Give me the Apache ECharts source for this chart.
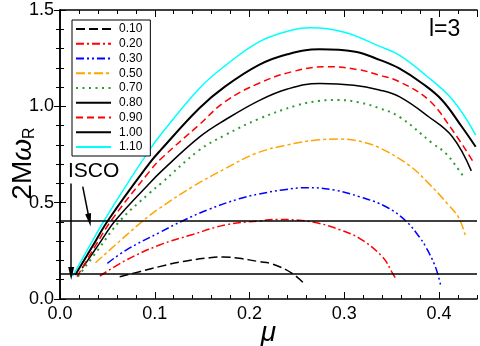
<!DOCTYPE html>
<html>
<head>
<meta charset="utf-8">
<script src="https://cdn.jsdelivr.net/npm/echarts@6/dist/echarts.min.js"></script>
<style>
  html, body { margin: 0; padding: 0; background: #fff; }
  #chart { width: 480px; height: 346px; }
</style>
</head>
<body>
<div id="chart"></div>
<script>
// legend labels (one per curve)
const massLabels = ['0.10', '0.20', '0.30', '0.50', '0.70', '0.80', '0.90', '1.00', '1.10']

// [mu, 2M omega_R]
const curve010 = [[0.063, 0.116], [0.085, 0.143], [0.105, 0.168], [0.13, 0.195], [0.158, 0.214], [0.172, 0.218], [0.189, 0.211], [0.21, 0.194], [0.224, 0.182], [0.245, 0.133], [0.259, 0.073]]
const curve020 = [[0.042, 0.119], [0.0698, 0.202], [0.105, 0.28], [0.14, 0.335], [0.175, 0.385], [0.21, 0.405], [0.231, 0.413], [0.25, 0.41], [0.273, 0.393], [0.295, 0.36], [0.316, 0.315], [0.34, 0.22], [0.351, 0.133], [0.355, 0.099]]
const curve030 = [[0.05, 0.185], [0.0698, 0.254], [0.105, 0.345], [0.129, 0.405], [0.157, 0.465], [0.189, 0.52], [0.21, 0.545], [0.235, 0.566], [0.261, 0.578], [0.29, 0.565], [0.316, 0.531], [0.344, 0.479], [0.365, 0.405], [0.379, 0.323], [0.386, 0.27], [0.396, 0.168], [0.402, 0.064]]
const curve050 = [[0.0374, 0.188], [0.0698, 0.33], [0.0874, 0.405], [0.105, 0.471], [0.14, 0.583], [0.175, 0.678], [0.207, 0.756], [0.24, 0.80], [0.273, 0.826], [0.295, 0.83], [0.315, 0.82], [0.337, 0.785], [0.368, 0.695], [0.389, 0.60], [0.41, 0.488], [0.421, 0.419], [0.428, 0.323]]
const curve070 = [[0.019, 0.116], [0.04, 0.255], [0.064, 0.41], [0.0943, 0.549], [0.1066, 0.60], [0.147, 0.773], [0.174, 0.85], [0.21, 0.935], [0.25, 1.005], [0.273, 1.028], [0.293, 1.033], [0.316, 1.02], [0.337, 0.99], [0.358, 0.946], [0.393, 0.808], [0.407, 0.756], [0.421, 0.669], [0.426, 0.632]]
const curve080 = [[0.0235, 0.16], [0.04, 0.277], [0.0588, 0.41], [0.0943, 0.60], [0.1066, 0.661], [0.147, 0.84], [0.174, 0.929], [0.21, 1.03], [0.24, 1.09], [0.274, 1.119], [0.31, 1.11], [0.337, 1.085], [0.358, 1.05], [0.389, 0.946], [0.414, 0.842], [0.434, 0.665]]
const curve090 = [[0.018, 0.116], [0.036, 0.265], [0.0545, 0.41], [0.0943, 0.661], [0.1066, 0.728], [0.147, 0.905], [0.174, 1.024], [0.21, 1.12], [0.245, 1.18], [0.281, 1.206], [0.315, 1.19], [0.337, 1.162], [0.358, 1.128], [0.389, 1.033], [0.414, 0.877], [0.437, 0.704]]
const curve100 = [[0.016, 0.125], [0.033, 0.263], [0.051, 0.41], [0.0943, 0.704], [0.1066, 0.775], [0.147, 0.99], [0.174, 1.102], [0.21, 1.215], [0.24, 1.27], [0.274, 1.296], [0.31, 1.285], [0.338, 1.24], [0.358, 1.197], [0.382, 1.12], [0.403, 1.033], [0.424, 0.894], [0.4386, 0.79]]
const curve110 = [[0.0135, 0.119], [0.03, 0.265], [0.047, 0.41], [0.07, 0.59], [0.0943, 0.773], [0.1066, 0.855], [0.147, 1.093], [0.174, 1.21], [0.21, 1.335], [0.24, 1.39], [0.264, 1.408], [0.30, 1.385], [0.338, 1.31], [0.358, 1.266], [0.385, 1.165], [0.414, 1.035], [0.4386, 0.851]]

const curves = [curve010, curve020, curve030, curve050, curve070, curve080, curve090, curve100, curve110]

// ISCO horizontal lines and the two arrows
const iscoLevels = [0.405, 0.133]
const arrowVertical = [[0.0118, 0.60], [0.0118, 0.133]]
const arrowSlanted = [[0.024, 0.583], [0.031, 0.41]]

const lineStyles = [
  { color: '#000000', type: [9, 4], width: 1.5 },
  { color: '#ff0000', type: [8, 3, 2, 3], width: 1.5 },
  { color: '#0000ff', type: [8, 3, 2, 3, 2, 3], width: 1.5 },
  { color: '#ffa500', type: [9, 3, 3, 3], width: 1.5 },
  { color: '#2e9b2e', type: [2, 4.5], width: 2 },
  { color: '#000000', type: 'solid', width: 1.5 },
  { color: '#ff0000', type: [7, 4], width: 1.5 },
  { color: '#000000', type: 'solid', width: 2 },
  { color: '#00ffff', type: 'solid', width: 1.5 }
]

const font = '"Liberation Sans", Arial, Helvetica, sans-serif'

function tickAxis (pos, interval, len) {
  return {
    type: 'value',
    min: 0,
    max: 0.44,
    interval: interval,
    position: pos,
    axisLine: { show: false },
    axisTick: { inside: true, length: len, lineStyle: { color: '#000', width: 1 } },
    axisLabel: { show: false },
    splitLine: { show: false }
  }
}

let chart = echarts.init(document.getElementById('chart'))

let series = curves.map(function (c, i) {
  return {
    name: massLabels[i],
    type: 'line',
    data: c,
    symbol: 'none',
    smooth: 0.4,
    lineStyle: lineStyles[i],
    itemStyle: { color: lineStyles[i].color },
    z: 3
  }
})

let arrowEnd = { symbol: 'triangle', symbolSize: [6, 13] }
series[0].markLine = {
  silent: true,
  animation: false,
  symbol: ['none', 'none'],
  label: { show: false },
  lineStyle: { color: '#000', type: 'solid', width: 1.5 },
  data: [
    [{ yAxis: iscoLevels[0], xAxis: 0 }, { yAxis: iscoLevels[0], xAxis: 0.44 }],
    [{ yAxis: iscoLevels[1], xAxis: 0 }, { yAxis: iscoLevels[1], xAxis: 0.44 }],
    [{ coord: arrowVertical[0] }, Object.assign({ coord: arrowVertical[1] }, arrowEnd)],
    [{ coord: arrowSlanted[0] }, Object.assign({ coord: arrowSlanted[1] }, arrowEnd)]
  ]
}

let option = {
  animation: false,
  backgroundColor: '#fff',
  textStyle: { fontFamily: font },
  grid: { left: 60, right: 3, top: 10, bottom: 47, outerBoundsMode: 'none' },
  legend: {
    data: massLabels,
    orient: 'vertical',
    left: 72,
    top: 20,
    padding: [3, 8, 3, 3],
    itemWidth: 35,
    itemHeight: 10,
    itemGap: 2.75,
    borderColor: '#000',
    borderWidth: 1,
    borderRadius: 0,
    backgroundColor: '#fff',
    itemStyle: { opacity: 0 },
    textStyle: { fontSize: 12, lineHeight: 10, color: '#000', fontFamily: font, padding: [0, 0, 0, 3] }
  },
  xAxis: [
    {
      type: 'value',
      min: 0,
      max: 0.44,
      interval: 0.1,
      position: 'bottom',
      name: 'μ',
      nameLocation: 'middle',
      nameGap: 20,
      nameMoveOverlap: false,
      nameTextStyle: { fontSize: 28, fontStyle: 'italic', color: '#000', fontFamily: font },
      axisLine: { lineStyle: { color: '#000', width: 1.5 } },
      axisTick: { inside: true, length: 7, lineStyle: { color: '#000', width: 1 } },
      axisLabel: { fontSize: 18, color: '#000', margin: 6, showMaxLabel: false, formatter: function (v) { return v.toFixed(1) } },
      splitLine: { show: false }
    },
    tickAxis('bottom', 0.02, 4),
    Object.assign(tickAxis('top', 0.1, 7), { axisLine: { show: true, lineStyle: { color: '#000', width: 1.5 } } }),
    tickAxis('top', 0.02, 4)
  ],
  yAxis: [
    {
      type: 'value',
      min: 0,
      max: 1.5,
      interval: 0.5,
      position: 'left',
      name: '{a|2M}{b|ω}{c|R}',
      nameLocation: 'middle',
      nameGap: 22,
      nameMoveOverlap: false,
      nameTextStyle: {
        padding: [0, 18, 0, 0],
        rich: {
          a: { fontSize: 28, color: '#000', fontFamily: font },
          b: { fontSize: 28, color: '#000', fontStyle: 'italic', fontFamily: font },
          c: { fontSize: 16, color: '#000', fontFamily: font, padding: [14, 0, 0, 0] }
        }
      },
      axisLine: { lineStyle: { color: '#000', width: 1.5 } },
      axisTick: { inside: true, length: 6, lineStyle: { color: '#000', width: 1 } },
      minorTick: { show: true, splitNumber: 5, length: 4, lineStyle: { color: '#000', width: 1 } },
      axisLabel: { fontSize: 18, color: '#000', margin: 6, formatter: function (v) { return v.toFixed(1) } },
      splitLine: { show: false }
    },
    {
      type: 'value',
      min: 0,
      max: 1.5,
      interval: 0.5,
      position: 'right',
      axisLine: { lineStyle: { color: '#000', width: 1.5 } },
      axisTick: { inside: true, length: 6, lineStyle: { color: '#000', width: 1 } },
      minorTick: { show: true, splitNumber: 5, length: 4, lineStyle: { color: '#000', width: 1 } },
      axisLabel: { show: false },
      splitLine: { show: false }
    }
  ],
  graphic: [
    { type: 'text', left: 68, top: 161, style: { text: 'ISCO', fontSize: 21, fontFamily: font, fill: '#000' } },
    { type: 'text', left: 429, top: 18, style: { text: 'l=3', fontSize: 23, fontFamily: font, fill: '#000' } }
  ],
  series: series
}
chart.setOption(option)
</script>
</body>
</html>
